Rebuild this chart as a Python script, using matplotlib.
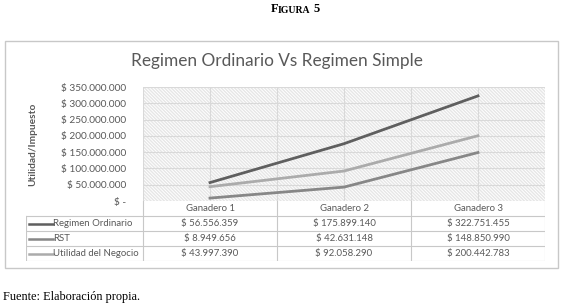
import matplotlib.pyplot as plt
from matplotlib.patches import Rectangle

# Datos de la figura
categorias = ["Ganadero 1", "Ganadero 2", "Ganadero 3"]
series = ["Regimen Ordinario", "RST", "Utilidad del Negocio"]
regimen_ordinario = [56556359, 175899140, 322751455]
rst = [8949656, 42631148, 148850990]
utilidad = [43997390, 92058290, 200442783]
valores = [regimen_ordinario, rst, utilidad]
colores = ["#5f5f5f", "#878787", "#ababab"]

y_ticks = [0, 50e6, 100e6, 150e6, 200e6, 250e6, 300e6, 350e6]


def pesos(v):
    if v == 0:
        return "$ -"
    return "$ " + f"{v:,.0f}".replace(",", ".")


W, H = 565, 308
fig = plt.figure(figsize=(W / 100, H / 100), dpi=100)
fuente = ["Lato", "DejaVu Sans"]
gris = "#595959"


def caja(x0, y0, x1, y1):
    # pixeles (desde arriba) -> coordenadas de figura
    return [x0 / W, 1 - y1 / H, (x1 - x0) / W, (y1 - y0) / H]


# marco exterior del grafico
fig.patches.append(Rectangle((5 / W, 1 - 268 / H), 553 / W, 227 / H,
                             transform=fig.transFigure, fill=False,
                             edgecolor="#c8c8c8", lw=1))

fig.text(3 / W, 1 - 297 / H, "Fuente: Elaboración propia.", ha="left",
         va="center", family="Liberation Serif", fontsize=8.8)
fig.text(277 / W, 1 - 61 / H, "Regimen Ordinario Vs Regimen Simple",
         ha="center", va="center", family=fuente, fontsize=12.4, color=gris)

# area del grafico
ax = fig.add_axes(caja(143, 87, 545, 201))
x = list(range(len(categorias)))
for vals, nombre, c in zip(valores, series, colores):
    ax.plot(x, vals, color=c, lw=2, label=nombre, zorder=3)

ax.set_xlim(-0.5, 2.5)
ax.set_ylim(0, 350e6)
ax.set_yticks(y_ticks)
ax.set_yticklabels([pesos(v) for v in y_ticks], family=fuente, fontsize=7.3, color=gris)
ax.set_xticks([-0.5, 0, 0.5, 1, 1.5, 2, 2.5])
ax.set_xticklabels([])
ax.tick_params(length=0, pad=12)
ax.grid(True, color="#d9d9d9", lw=0.8, zorder=1)
ax.set_facecolor("white")
ax.add_patch(Rectangle((-0.5, 0), 3, 350e6, facecolor="none", edgecolor="#e6e6e6",
                       hatch="\\\\\\\\\\\\\\\\\\\\", lw=0, zorder=0))
for s in ax.spines.values():
    s.set_visible(False)
ax.set_ylabel("Utilidad/Impuesto", family=fuente, fontsize=7.3, fontweight="bold",
              color=gris, labelpad=17)

# "Figura 5" en versalitas
serif = dict(family="Liberation Serif", fontweight="bold")
t_f = fig.text(278 / W, 1 - 15 / H, "F", ha="right", va="bottom", fontsize=9, **serif)
t_ig = fig.text(278 / W, 1 - 15 / H, "IGURA", ha="left", va="bottom", fontsize=7, **serif)
ax.annotate("5", xy=(1, 0), xycoords=t_ig, xytext=(2.5, 0), textcoords="offset points",
            ha="left", va="bottom", fontsize=9, annotation_clip=False, **serif)

# tabla de datos
izq = -0.5 - (143 - 26) / 134.0
tb = fig.add_axes(caja(26, 201, 545, 261))
tb.set_xlim(izq, 2.5)
tb.set_ylim(4, 0)
tb.axis("off")
borde = "#c8c8c8"
for i, cat in enumerate(categorias):
    tb.text(i, 0.5, cat, ha="center", va="center", family=fuente, fontsize=6.9, color=gris)
for r, (nombre, vals, c) in enumerate(zip(series, valores, colores), start=1):
    tb.plot([izq + 0.025, izq + 0.2], [r + 0.5, r + 0.5], color=c, lw=1.8)
    tb.text(izq + 0.205, r + 0.5, nombre, ha="left", va="center", family=fuente,
            fontsize=6.9, color=gris)
    for i, v in enumerate(vals):
        tb.text(i, r + 0.5, pesos(v), ha="center", va="center", family=fuente,
                fontsize=6.9, color=gris)
# lineas de la tabla
for xv in [-0.5, 0.5, 1.5, 2.5]:
    tb.plot([xv, xv], [0, 4], color=borde, lw=0.8)
tb.plot([izq, izq], [1, 4], color=borde, lw=0.8)
for yv in [1, 2, 3, 4]:
    tb.plot([izq, 2.5], [yv, yv], color=borde, lw=0.8)

fig.savefig("out.png", dpi=100)
